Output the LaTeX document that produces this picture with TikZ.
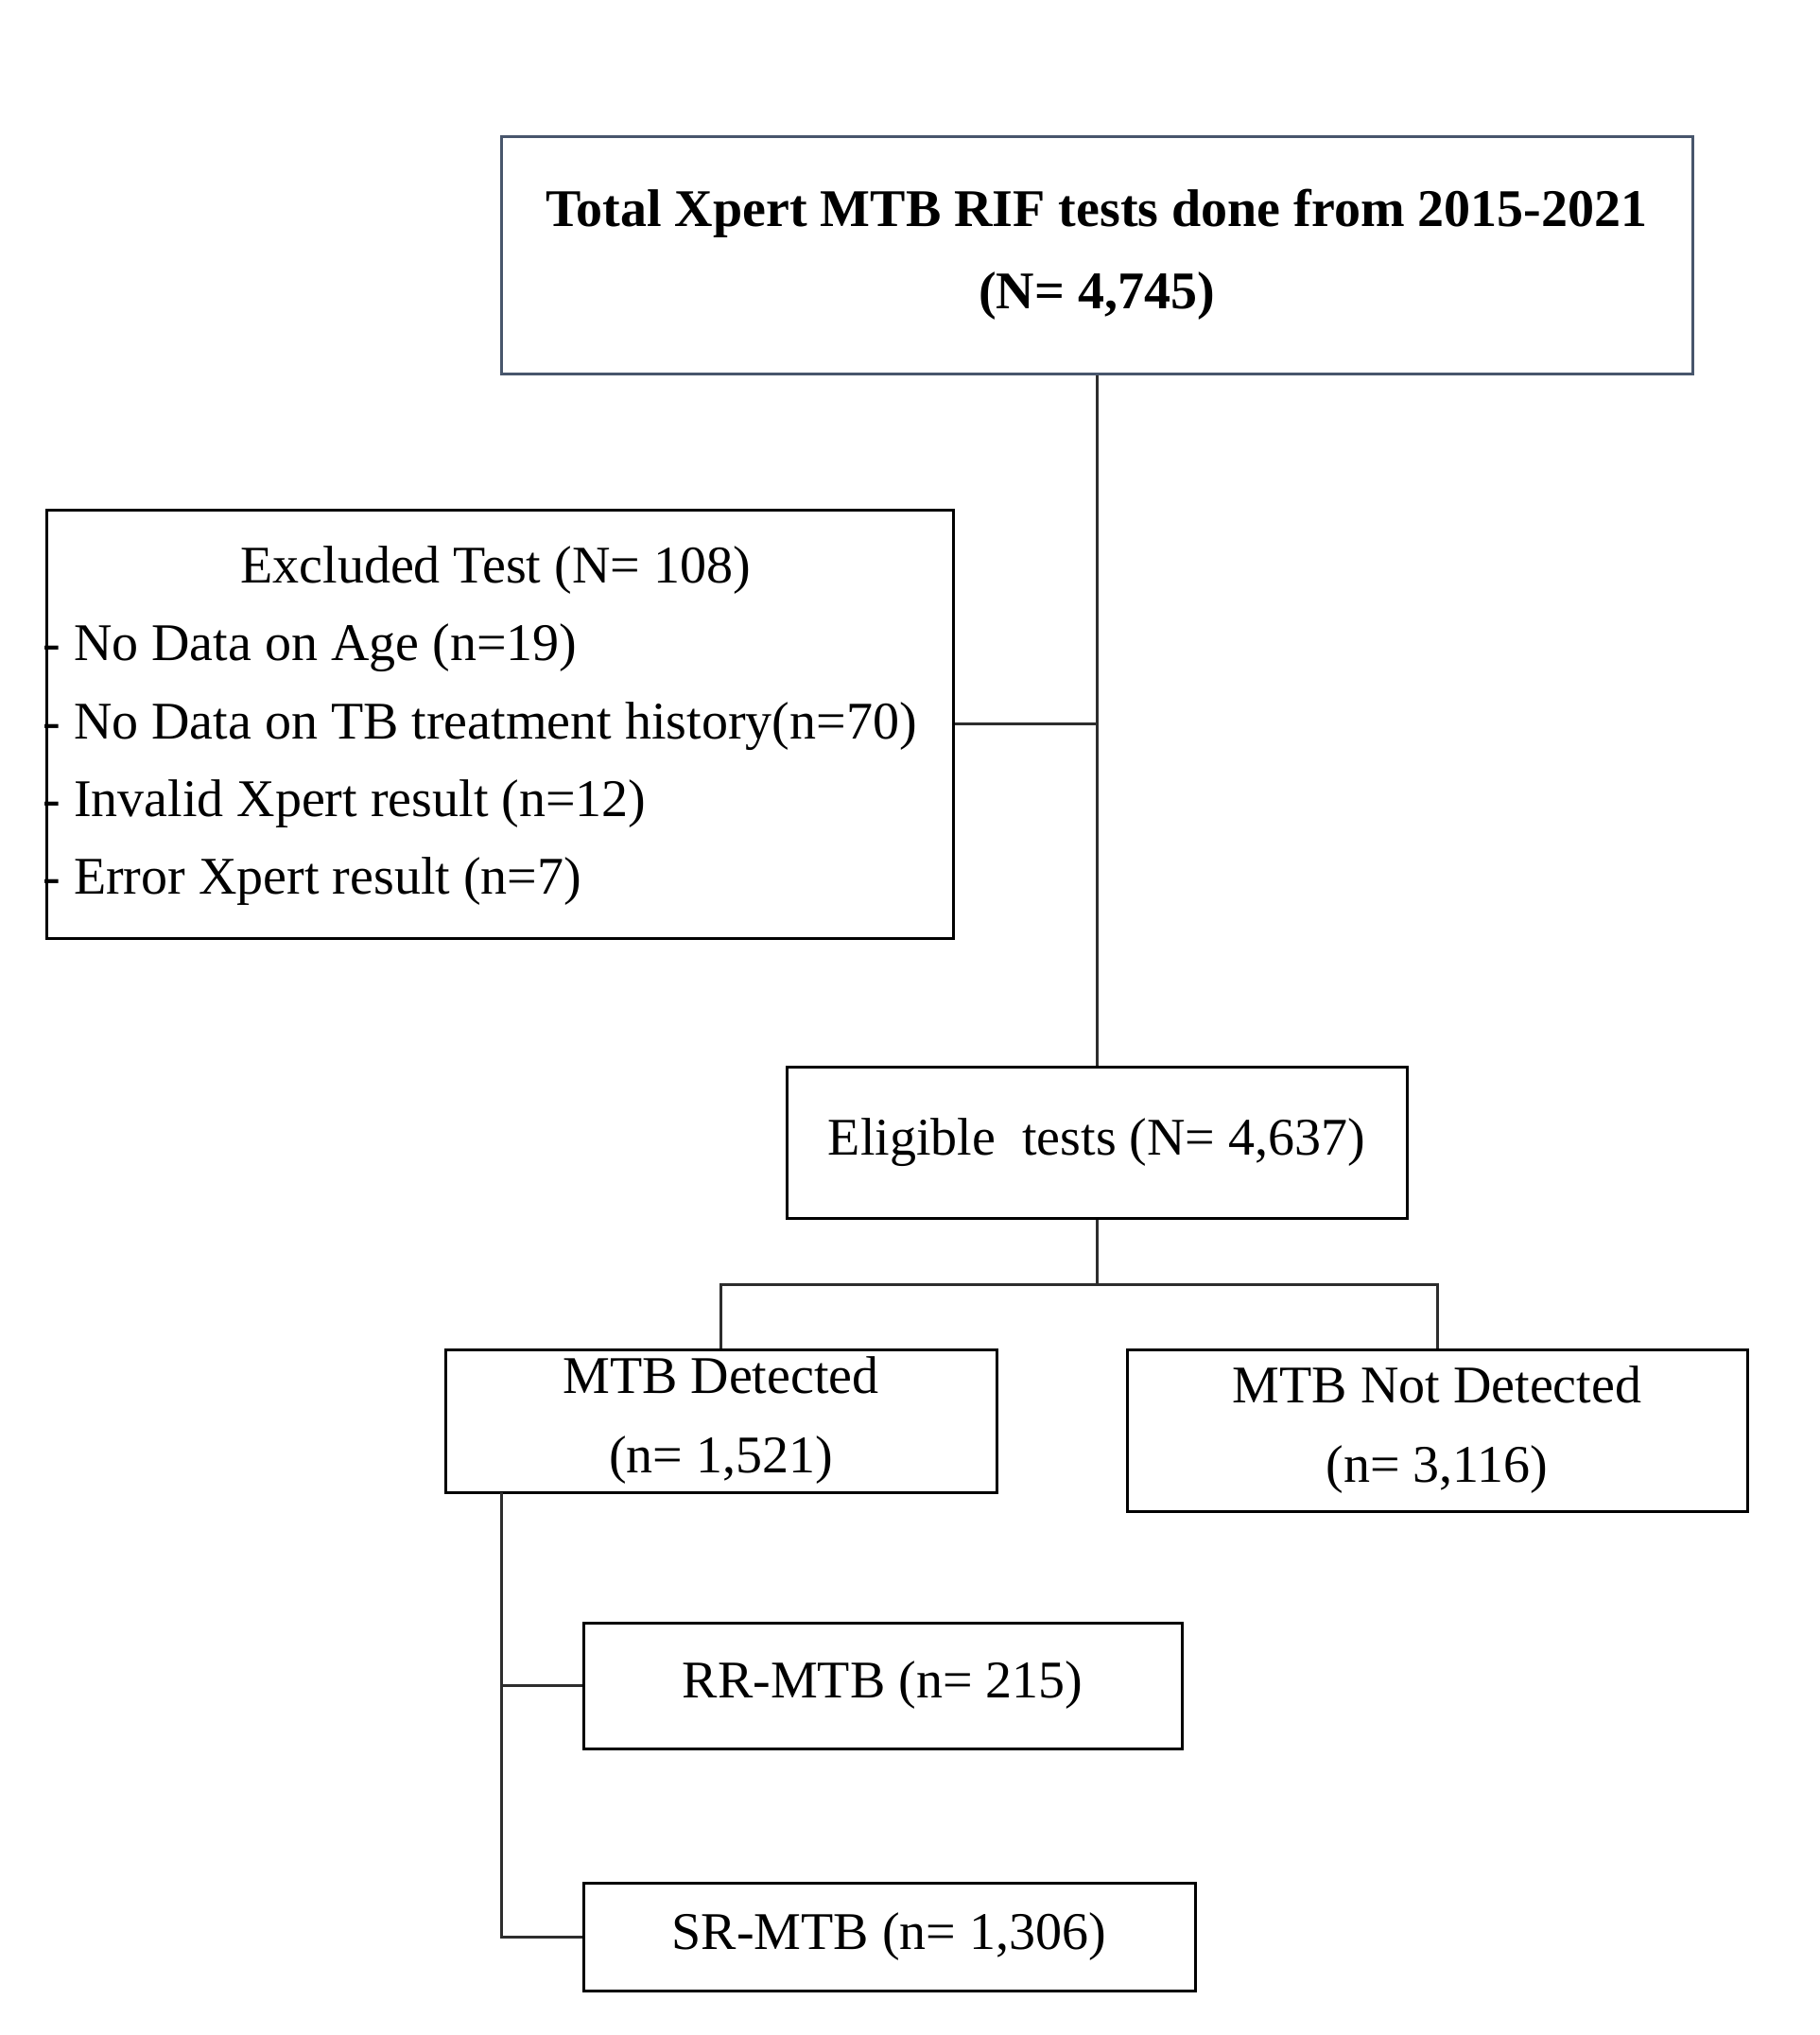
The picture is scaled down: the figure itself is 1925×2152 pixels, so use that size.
\documentclass[tikz,border=0pt]{standalone}
\usepackage{fontspec}
\setmainfont{Liberation Serif}
\definecolor{slate}{RGB}{72,86,108}
\definecolor{linkgray}{RGB}{45,45,45}
\begin{document}
\begin{tikzpicture}[x=0.5pt,y=-0.5pt,
  box/.style={draw=black, line width=1.5pt, inner sep=0pt, align=center,
    font=\fontsize{28}{42}\selectfont},
  lbl/.style={inner sep=0pt, font=\fontsize{28}{42}\selectfont},
  link/.style={draw=linkgray, line width=1.5pt}]
\useasboundingbox (0,0) rectangle (1925,2152);
\fill[white] (0,0) rectangle (1925,2152);

\node[box, draw=slate, minimum width=630pt, minimum height=125.5pt,
  font=\fontsize{28}{42.5}\selectfont\bfseries] (total) at (1160,269.5)
  {Total Xpert MTB RIF tests done from 2015-2021\\[1pt](N= 4,745)};

\node[box, minimum width=479.5pt, minimum height=226.5pt] (excl) at (528.5,765.5) {};
\node[lbl] (exh) at (524,603) {Excluded Test (N= 108)};
\node[lbl, anchor=west] (ex1) at (45,685.5) {- No Data on Age (n=19)};
\node[lbl, anchor=west] (ex2) at (45,768) {- No Data on TB treatment history(n=70)};
\node[lbl, anchor=west] (ex3) at (45,850) {- Invalid Xpert result (n=12)};
\node[lbl, anchor=west] (ex4) at (45,932.5) {- Error Xpert result (n=7)};

\node[box, minimum width=328pt, minimum height=80pt] (elig) at (1160,1208)
  {Eligible\ \ tests (N= 4,637)};

\node[box, minimum width=291.5pt, minimum height=75.5pt] (det) at (762.5,1502.5)
  {MTB Detected\\(n= 1,521)};
\node[box, minimum width=328pt, minimum height=85.5pt] (nodet) at (1520,1512.5)
  {MTB Not Detected\\(n= 3,116)};

\node[box, minimum width=316.5pt, minimum height=66.5pt] (rr) at (933.5,1782.5)
  {\raisebox{-2pt}{RR-MTB (n= 215)}};
\node[box, minimum width=323.5pt, minimum height=57pt] (sr) at (940.5,2048)
  {SR-MTB (n= 1,306)};

\coordinate (j2) at (1160,1358);
\coordinate (j3) at (530,1578);

\draw[link] (total.south) -- (elig.north);
\draw[link] (excl.east) -- (excl.east -| total.south);
\draw[link] (elig.south) -- (j2);
\draw[link] (det.north) |- (j2) -| (nodet.north);
\draw[link] (j3) |- (rr.west);
\draw[link] (j3) |- (sr.west);
\end{tikzpicture}
\end{document}
